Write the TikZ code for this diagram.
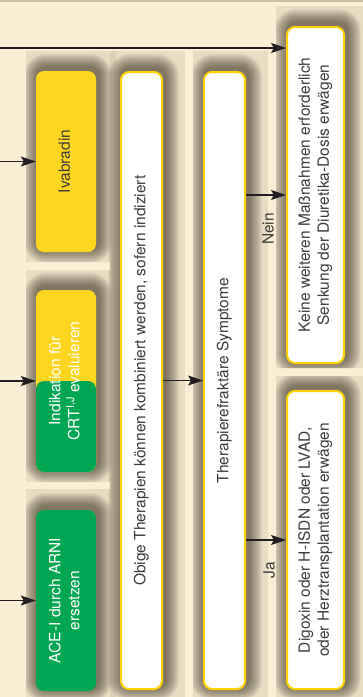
\documentclass[tikz,border=0pt]{standalone}
\usepackage{fontspec}
\setmainfont{TeX Gyre Heros}
\usepackage{graphicx}
\usetikzlibrary{arrows.meta,calc}
\definecolor{creambg}{RGB}{250,239,212}
\definecolor{panelbg}{RGB}{232,221,194}
\definecolor{stripbg}{RGB}{220,208,181}
\definecolor{topline}{RGB}{204,191,165}
\definecolor{guideyellow}{RGB}{254,213,31}
\definecolor{guidegreen}{RGB}{0,166,81}
\definecolor{rimyellow}{RGB}{255,211,0}
\definecolor{arrowdark}{RGB}{35,31,32}
\definecolor{textgray}{RGB}{60,60,60}
\definecolor{shadowc}{RGB}{40,32,20}

\pgfdeclarelayer{panellayer}
\pgfdeclarelayer{shadowlayer}
\pgfsetlayers{panellayer,shadowlayer,main}

\newcommand{\uptext}[1]{\rotatebox{90}{\begin{tabular}{@{}c@{}}#1\end{tabular}}}

\tikzset{
  panel/.style={fill=panelbg, draw=none},
  boxbase/.style={rounded corners=8pt, inner sep=0pt,
    font=\fontsize{15.5}{19}\selectfont},
  yellowbox/.style={boxbase, fill=guideyellow, text=textgray},
  greenbox/.style={boxbase, fill=guidegreen, text=white},
  splitbox/.style={boxbase, fill=guideyellow, text=white,
    path picture={\fill[guidegreen] (path picture bounding box.west)
      rectangle (path picture bounding box.south east);}},
  whitebox/.style={boxbase, fill=white, draw=rimyellow, line width=2pt,
    text=textgray},
  arr/.style={-{Stealth[length=15pt,width=10pt,inset=3pt]},
    line width=1.1pt, draw=arrowdark},
  lbl/.style={rotate=90, text=textgray, font=\fontsize{15.5}{19}\selectfont}
}

\begin{document}
\begin{tikzpicture}[x=1pt,y=-1pt]
    \useasboundingbox (0,0) rectangle (363,697);
    % Background and panels
    \begin{pgfonlayer}{panellayer}
    \fill[creambg] (0,0) rectangle (363,697);
    \fill[topline] (0,0) rectangle (363,1.5);
    \fill[panel] (26,51) rectangle (110,262);
    \fill[panel] (26,270) rectangle (110,482);
    \fill[panel] (26,489) rectangle (110,697);
    \fill[stripbg] (110,51) rectangle (116,697);
    \fill[panel] (116,51) rectangle (185,697);
    \fill[panel] (193,51) rectangle (268,697);
    \fill[panel] (276,6) rectangle (363,368);
    \fill[panel] (276,376) rectangle (363,697);
    \end{pgfonlayer}

    % First column
    \node[yellowbox, minimum width=60pt, minimum height=181pt] (ivab)
        at (66,161.5) {\uptext{Ivabradin}};
    \node[splitbox, minimum width=60pt, minimum height=182pt] (crt)
        at (66,381) {\uptext{Indikation für\\CRT\textsuperscript{I,J} evaluieren}};
    \node[greenbox, minimum width=60pt, minimum height=181pt] (arni)
        at (66,600.5) {\uptext{ACE-I durch ARNI\\ersetzen}};

    % Middle columns
    \node[whitebox, minimum width=41pt, minimum height=617pt] (obige)
        at (141.5,380.5) {\uptext{Obige Therapien können kombiniert werden, sofern indiziert}};
    \node[whitebox, minimum width=41pt, minimum height=617pt] (refr)
        at (224.5,380.5) {\uptext{Therapierefraktäre Symptome}};

    % Last column
    \node[whitebox, minimum width=57pt, minimum height=336pt] (keine)
        at (315.5,195) {\uptext{Keine weiteren Maßnahmen erforderlich\\Senkung der Diuretika-Dosis erwägen}};
    \node[whitebox, minimum width=57pt, minimum height=298pt] (digox)
        at (315.5,540) {\uptext{Digoxin oder H-ISDN oder LVAD,\\oder Herztransplantation erwägen}};

    % Soft shadows, kept inside the panels
    \begin{pgfonlayer}{shadowlayer}
    \clip (26,51) rectangle (116,262) (26,270) rectangle (116,482)
          (26,489) rectangle (116,697) (110,51) rectangle (185,697)
          (193,51) rectangle (268,697) (276,6) rectangle (363,368)
          (276,376) rectangle (363,697);
    \foreach \b in {ivab,crt,arni,obige,refr,keine,digox}
      \foreach \i in {1,...,14}
        \fill[shadowc, opacity=0.05, rounded corners={8pt+\i pt}]
          ($(\b.south west)+(-\i+2,\i-3)$) rectangle ($(\b.north east)+(\i+2,-\i-3)$);
    \end{pgfonlayer}

    % Incoming arrows
    \coordinate (in0) at (0,48);
    \coordinate (in1) at (ivab.west -| 0,0);
    \coordinate (in2) at (crt.west -| 0,0);
    \coordinate (in3) at (arni.west -| 0,0);
    \draw[arr] (in0) -- (in0 -| keine.west);
    \draw[arr] (in1) -- (ivab.west);
    \draw[arr] (in2) -- (crt.west);
    \draw[arr] (in3) -- (arni.west);

    % Flow
    \draw[arr] (obige.east |- refr.west) -- (refr.west);
    \draw[arr] (refr.east |- keine.west) -- (keine.west);
    \draw[arr] (refr.east |- digox.west) -- (digox.west);
    \node[lbl] (nein) at (268,229) {Nein};
    \node[lbl] (ja) at (269,570) {Ja};
\end{tikzpicture}
\end{document}
